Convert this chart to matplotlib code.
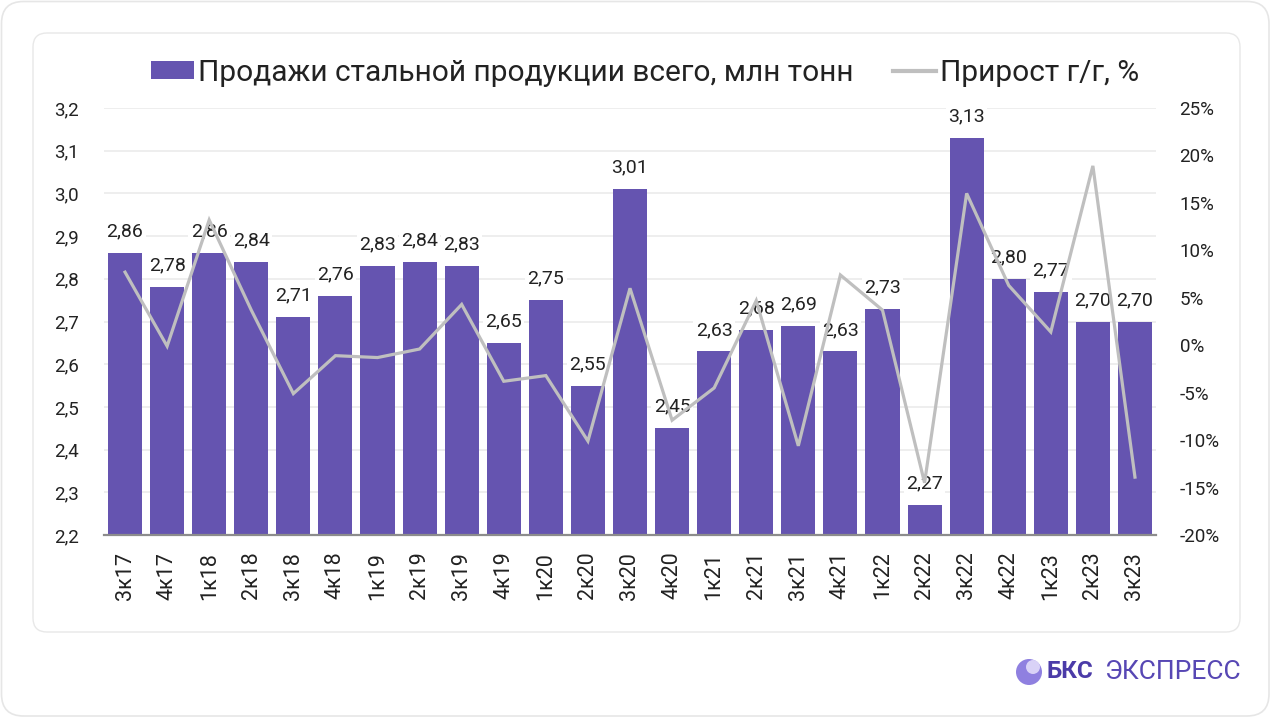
import matplotlib
matplotlib.use("Agg")
import matplotlib.pyplot as plt
from matplotlib.patches import FancyBboxPatch, Circle, Patch
from matplotlib.lines import Line2D
import numpy as np

plt.rcParams['font.family'] = ['Roboto', 'DejaVu Sans']

categories = ["3к17", "4к17", "1к18", "2к18", "3к18", "4к18", "1к19", "2к19", "3к19",
              "4к19", "1к20", "2к20", "3к20", "4к20", "1к21", "2к21", "3к21", "4к21",
              "1к22", "2к22", "3к22", "4к22", "1к23", "2к23", "3к23"]
sales = [2.86, 2.78, 2.86, 2.84, 2.71, 2.76, 2.83, 2.84, 2.83, 2.65, 2.75, 2.55, 3.01,
         2.45, 2.63, 2.68, 2.69, 2.63, 2.73, 2.27, 3.13, 2.80, 2.77, 2.70, 2.70]
growth = [7.7, -0.1, 13.2, 3.7, -5.1, -1.1, -1.3, -0.4, 4.3, -3.8, -3.2, -10.1, 6.0,
          -7.9, -4.5, 4.7, -10.6, 7.4, 3.7, -14.5, 16.0, 6.3, 1.4, 18.9, -13.9]
left_ticks = [2.2, 2.3, 2.4, 2.5, 2.6, 2.7, 2.8, 2.9, 3.0, 3.1, 3.2]
right_ticks = [-20, -15, -10, -5, 0, 5, 10, 15, 20, 25]

BAR = "#6554B0"
LINE = "#BFBFBF"
TXT = "#222222"

W, H = 1273, 718
fig = plt.figure(figsize=(W / 100, H / 100), dpi=100)
fig.patch.set_facecolor("white")

def px_box(x0, y0, x1, y1, r, ec, lw=1.0):
    p = FancyBboxPatch((x0 / 100, (H - y1) / 100), (x1 - x0) / 100, (y1 - y0) / 100,
                       boxstyle=f"round,pad=0,rounding_size={r/100}",
                       transform=fig.dpi_scale_trans, facecolor="white",
                       edgecolor=ec, linewidth=lw, zorder=0)
    fig.patches.append(p)

px_box(1.5, 1.5, W - 4, H - 2, 22, "#E6E6E6", 1.2)
px_box(33, 33, 1240, 632, 14, "#E8E8E8", 1.0)

ax = fig.add_axes([104 / W, 1 - 535 / H, (1156 - 104) / W, (535 - 108) / H])
ax.set_facecolor("none")
x = np.arange(len(categories))
ax.bar(x, sales, width=0.81, color=BAR, zorder=2)
ax.set_ylim(2.2, 3.2)
ax.set_xlim(-0.5, len(categories) - 0.5)
ax.set_yticks(left_ticks)
ax.set_yticklabels([f"{v:.1f}".replace(".", ",") for v in left_ticks], fontsize=13.5, color=TXT)
ax.set_xticks(x)
ax.set_xticklabels(categories, rotation=90, fontsize=15.5, color=TXT)
ax.tick_params(axis="both", length=0)
ax.tick_params(axis="y", pad=18)
ax.tick_params(axis="x", pad=12)
ax.grid(axis="y", color="#EBEBEB", linewidth=1.2, zorder=0)
ax.set_axisbelow(True)
for s in ["top", "right", "left"]:
    ax.spines[s].set_visible(False)
ax.spines["bottom"].set_color("#8C8C8C")
ax.spines["bottom"].set_linewidth(1.6)
ax.spines["bottom"].set_zorder(5)

for xi, v in zip(x, sales):
    ax.annotate(f"{v:.2f}".replace(".", ","), (xi, v), xytext=(0, 15.5), textcoords="offset points",
                ha="center", va="center", fontsize=14, color=TXT, zorder=3,
                bbox=dict(boxstyle="square,pad=0.12", facecolor="white", edgecolor="none"))

ax2 = ax.twinx()
ax2.plot(x, growth, color=LINE, linewidth=2.3, zorder=4, solid_joinstyle="miter")
ax2.set_ylim(-20, 25)
ax2.set_yticks(right_ticks)
ax2.set_yticklabels([f"{v}%" for v in right_ticks], fontsize=13.5, color=TXT)
ax2.tick_params(axis="y", length=0, pad=17)
for s in ["top", "right", "left", "bottom"]:
    ax2.spines[s].set_visible(False)
ax.set_zorder(1)
ax2.set_zorder(2)
ax2.patch.set_visible(False)

handles = [Patch(facecolor=BAR, edgecolor="none"),
           Line2D([0], [0], color=LINE, linewidth=3)]
labels = ["Продажи стальной продукции всего, млн тонн", "Прирост г/г, %"]
fig.legend(handles, labels, loc="center", bbox_to_anchor=(645 / W, 1 - 73 / H),
           ncol=2, frameon=False, fontsize=21.5, handlelength=1.44, handleheight=0.55,
           handletextpad=0.15, columnspacing=1.3, labelcolor=TXT, borderpad=0)

# logo
logo = Circle((1029 / 100, (H - 672) / 100), 0.13, transform=fig.dpi_scale_trans,
              facecolor="#8F80E0", edgecolor="none")
fig.patches.append(logo)
hl = Circle((1033 / 100, (H - 667) / 100), 0.07, transform=fig.dpi_scale_trans,
            facecolor="#D9D2F7", edgecolor="none")
fig.patches.append(hl)
fig.text(1047 / W, 1 - 672 / H, "БКС", fontsize=17.5, fontweight="bold", color="#4B3BA8",
         ha="left", va="center")
fig.text(1104 / W, 1 - 672 / H, "ЭКСПРЕСС", fontsize=19, color="#5747B4",
         ha="left", va="center", fontweight="normal")

fig.savefig("out.png", dpi=100, facecolor="white")
